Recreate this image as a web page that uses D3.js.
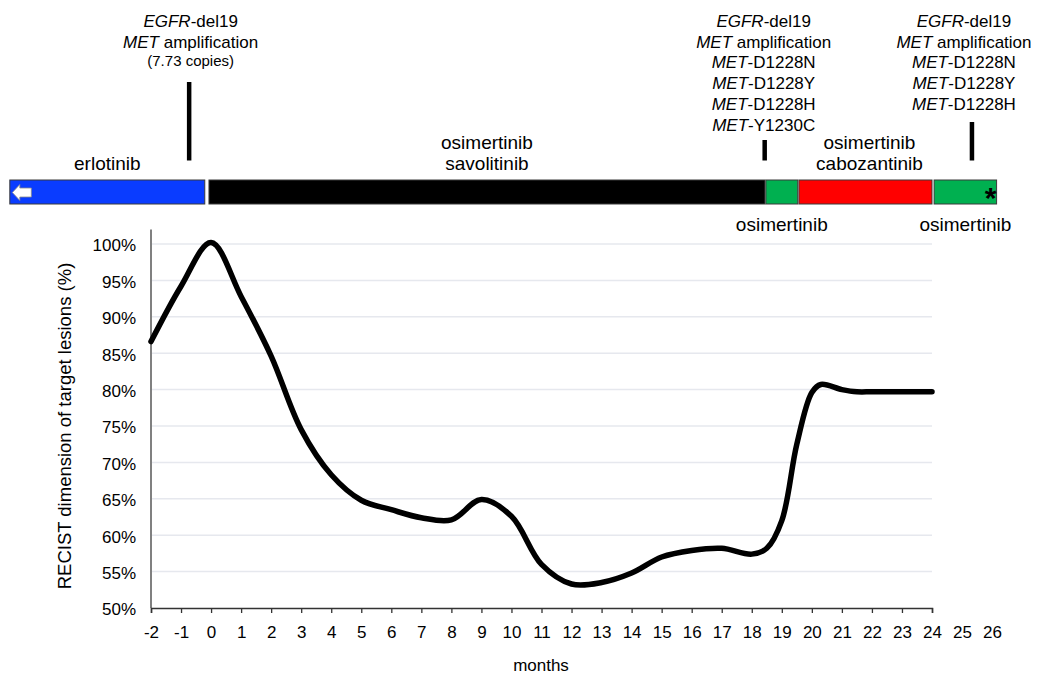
<!DOCTYPE html>
<html><head><meta charset="utf-8">
<script src="https://cdn.jsdelivr.net/npm/d3@7"></script>
<style>
body{margin:0;background:#fff;}
svg{font-family:"Liberation Sans",Arial,sans-serif;}
</style></head>
<body><svg id="c" width="1041" height="678"></svg>
<script>
// ---- data ----
const months = [-2,-1,0,1,2,3,4,5,6,7,8,9,10,11,12,13,14,15,16,17,18,18.5,19,19.5,20,20.3,21,21.5,22,23,24];
const recist = [86.6,94.2,100.2,92.8,84.6,74.5,68.3,64.8,63.5,62.4,62.1,64.9,62.6,56.0,53.3,53.5,54.8,57.0,57.9,58.2,57.4,58.2,62.0,72.5,79.6,80.7,80.0,79.7,79.7,79.7,79.7];
const xTickLabels = d3.range(-2,27);
const yTickValues = [50,55,60,65,70,75,80,85,90,95,100];

const treatNames = ["erlotinib","osimertinib\nsavolitinib","osimertinib","osimertinib\ncabozantinib","osimertinib"];
const treatStart = [-6.7,-0.07,18.47,19.57,24.07];
const treatEnd   = [-0.21,18.44,19.53,24.0,26.15];
const treatColor = ["#0a3cff","#000000","#00b050","#ff0000","#00b050"];
const treatLabelPos = ["above","above","below","above","below"];

const eventMonth = [-0.73,18.43,25.33];
const eventLines = [
  [["EGFR","-del19"],["MET"," amplification"],["","(7.73 copies)"]],
  [["EGFR","-del19"],["MET"," amplification"],["MET","-D1228N"],["MET","-D1228Y"],["MET","-D1228H"],["MET","-Y1230C"]],
  [["EGFR","-del19"],["MET"," amplification"],["MET","-D1228N"],["MET","-D1228Y"],["MET","-D1228H"]]
];

// ---- scales ----
const svg = d3.select("#c");
const x = d3.scaleLinear().domain([-2,24]).range([151,932]);
const y = d3.scaleLinear().domain([50,100]).range([608,244]);

// grid
svg.append("g").selectAll("line").data(yTickValues.slice(1)).join("line")
  .attr("x1",x(-2)).attr("x2",x(24)).attr("y1",d=>y(d)).attr("y2",d=>y(d))
  .attr("stroke","#e6e8ee").attr("stroke-width",1.5);

// y axis
const yAx = svg.append("g").attr("transform",`translate(${x(-2)},0)`)
  .call(d3.axisLeft(y).tickValues(yTickValues).tickFormat(d=>d+"%").tickSize(0).tickPadding(15));
yAx.select(".domain").remove();
yAx.selectAll("text").attr("font-size",17).attr("fill","#000").attr("font-family","Liberation Sans, Arial, sans-serif").attr("dy","0.4em");
svg.append("line").attr("x1",x(-2)).attr("x2",x(-2)).attr("y1",y(50)).attr("y2",y(102))
  .attr("stroke","#808080").attr("stroke-width",2);

// x axis
const xAx = svg.append("g").attr("transform",`translate(0,${y(50)})`)
  .call(d3.axisBottom(x).tickValues(xTickLabels).tickFormat(d=>d).tickSize(5).tickPadding(13));
xAx.select(".domain").attr("stroke","#333").attr("stroke-width",1.5);
xAx.selectAll(".tick line").attr("stroke","#333").attr("stroke-width",1.3).filter(d=>d>24).remove();
xAx.selectAll("text").attr("font-size",17).attr("fill","#000").attr("font-family","Liberation Sans, Arial, sans-serif");

// axis titles
svg.append("text").attr("x",541).attr("y",671).attr("text-anchor","middle").attr("font-size",17).text("months");
svg.append("text").attr("transform","translate(71,426) rotate(-90)").attr("text-anchor","middle").attr("font-size",18.5)
  .text("RECIST dimension of target lesions (%)");

// curve
const line = d3.line().x(d=>x(d[0])).y(d=>y(d[1])).curve(d3.curveCatmullRom.alpha(0.5));
svg.append("path").datum(months.map((m,i)=>[m,recist[i]])).attr("d",line)
  .attr("fill","none").attr("stroke","#000").attr("stroke-width",5.5).attr("stroke-linejoin","round").attr("stroke-linecap","round");

// treatment bars
const barTop = 180, barH = 24;
const tg = svg.append("g");
treatNames.forEach((n,i)=>{
  tg.append("rect").attr("x",x(treatStart[i])).attr("y",barTop)
    .attr("width",x(treatEnd[i])-x(treatStart[i])).attr("height",barH)
    .attr("fill",treatColor[i]).attr("stroke","#3a3a3a").attr("stroke-width",1);
  const cx = (x(treatStart[i])+x(treatEnd[i]))/2 + (i===3?4:0);
  const parts = n.split("\n");
  const t = tg.append("text").attr("text-anchor","middle").attr("font-size",19);
  if(treatLabelPos[i]==="above"){
    parts.forEach((p,k)=>t.append("tspan").attr("x",cx).attr("y",170-(parts.length-1-k)*21).text(p));
  } else {
    t.append("tspan").attr("x",cx).attr("y",231).text(parts[0]);
  }
});
// white arrow in erlotinib bar
const ax0 = x(treatStart[0]), ay = barTop + 12.5;
svg.append("path")
  .attr("d",`M${ax0+2.5},${ay} L${ax0+10},${ay-8} L${ax0+10},${ay-4.5} L${ax0+21.5},${ay-4.5} L${ax0+21.5},${ay+4.5} L${ax0+10},${ay+4.5} L${ax0+10},${ay+8} Z`)
  .attr("fill","#fff").attr("stroke","#8a8a8a").attr("stroke-width",0.8);
// asterisk
svg.append("text").attr("x",x(treatEnd[4])-6).attr("y",208).attr("text-anchor","middle")
  .attr("font-size",30).attr("font-weight","bold").text("*");

// event markers + mutation annotations
const lineTops = [82,140,122];
eventMonth.forEach((m,i)=>{
  svg.append("line").attr("x1",x(m)).attr("x2",x(m)).attr("y1",lineTops[i]).attr("y2",160.5)
    .attr("stroke","#000").attr("stroke-width",4.5);
  const cx = x(m) + (i===0?1.5:(i===2?-8:-1));
  eventLines[i].forEach((ln,k)=>{
    const small = ln[1].startsWith("(");
    const t = svg.append("text").attr("x",cx).attr("y",small?65.5:27+k*20.7)
      .attr("text-anchor","middle").attr("font-size",small?15:17);
    if(ln[0]) t.append("tspan").attr("font-style","italic").text(ln[0]);
    t.append("tspan").text(ln[1]);
  });
});
</script></body></html>
